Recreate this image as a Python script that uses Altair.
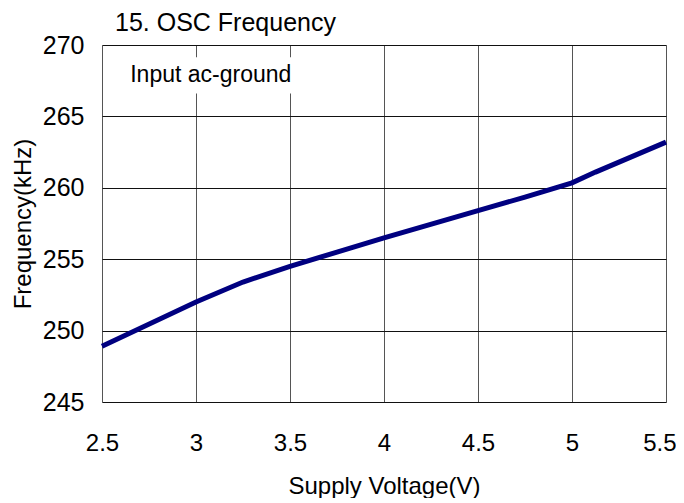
import altair as alt
import pandas as pd

voltage = [2.5, 3.0, 3.25, 3.5, 3.75, 4.0, 4.5, 4.75, 5.0, 5.125, 5.5]
frequency = [248.9, 252.0, 253.4, 254.5, 255.5, 256.5, 258.4, 259.35, 260.35, 261.1, 263.2]

x_ticks = [2.5, 3, 3.5, 4, 4.5, 5, 5.5]
y_ticks = [245, 250, 255, 260, 265, 270]

note_text = ["Input ac-ground"]
note_x = [2.65]
note_y = [267.9]
note_box_x = [2.55]
note_box_x2 = [3.54]
note_box_y = [269.15]
note_box_y2 = [266.6]

df = pd.DataFrame({"v": voltage, "f": frequency})
note = pd.DataFrame({"t": note_text, "x": note_x, "y": note_y,
                     "bx": note_box_x, "bx2": note_box_x2,
                     "by": note_box_y, "by2": note_box_y2})

FONT = "Liberation Sans"

xscale = alt.Scale(domain=[2.5, 5.5], nice=False, zero=False)
yscale = alt.Scale(domain=[245, 270], nice=False, zero=False)

xaxis = alt.Axis(values=x_ticks, format="~g", title="Supply Voltage(V)", grid=True, ticks=False,
                 labelPadding=29, titlePadding=19, labelFontSize=24, titleFontSize=24,
                 labelFont=FONT, titleFont=FONT, titleFontWeight="normal",
                 labelColor="black", titleColor="black", gridColor="#555",
                 gridWidth=1, domain=False, labelFlush=False, labelOverlap=False,
                 labelAlign=alt.expr("datum.value == 5.5 ? 'right' : 'center'"),
                 labelOffset=alt.expr("datum.value == 5.5 ? 10 : 0"))
yaxis = alt.Axis(values=y_ticks, title="Frequency(kHz)", grid=True, ticks=False,
                 labelPadding=18, titlePadding=7, labelFontSize=25, titleFontSize=24,
                 labelFont=FONT, titleFont=FONT, titleFontWeight="normal",
                 labelColor="black", titleColor="black", gridColor="#111",
                 gridWidth=1, domain=False, labelFlush=False, labelOverlap=False)

line = alt.Chart(df).mark_line(color="#000080", strokeWidth=5).encode(
    x=alt.X("v:Q", scale=xscale, axis=xaxis),
    y=alt.Y("f:Q", scale=yscale, axis=yaxis),
)

box = alt.Chart(note).mark_rect(color="white").encode(
    x=alt.X("bx:Q", scale=xscale), x2="bx2:Q",
    y=alt.Y("by:Q", scale=yscale), y2="by2:Q",
)

txt = alt.Chart(note).mark_text(align="left", baseline="middle", fontSize=23,
                                font=FONT, color="black").encode(
    x=alt.X("x:Q", scale=xscale), y=alt.Y("y:Q", scale=yscale), text="t:N"
)

chart = alt.layer(box, line, txt).properties(
    width=564, height=357,
    title=alt.TitleParams("15. OSC Frequency", anchor="start", frame="group", dx=13, offset=-3,
                          fontSize=25, font=FONT, fontWeight="normal", color="black"),
    autosize=alt.AutoSizeParams(type="none"),
    padding={"left": 94, "top": 37, "right": 10, "bottom": 96},
).configure_view(stroke="black", strokeWidth=1.5).configure(background="white")

chart.save("out.html", embed_options={"renderer": "svg", "actions": False})
